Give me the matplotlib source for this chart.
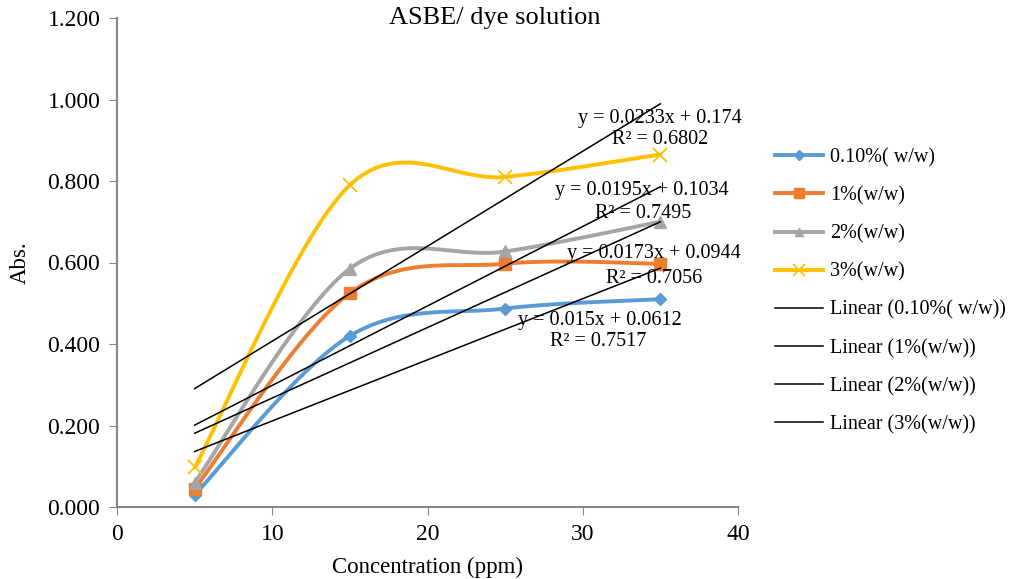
import numpy as np
import matplotlib
matplotlib.use("Agg")
import matplotlib.pyplot as plt
from matplotlib.lines import Line2D

plt.rcParams['font.family'] = ['Liberation Serif', 'DejaVu Serif']

conc = [5, 15, 25, 35]
s010 = [0.030, 0.420, 0.487, 0.510]
s1 = [0.045, 0.525, 0.597, 0.597]
s2 = [0.060, 0.585, 0.627, 0.700]
s3 = [0.097, 0.790, 0.810, 0.865]
series_names = ['0.10%( w/w)', '1%(w/w)', '2%(w/w)', '3%(w/w)']
slopes = [0.015, 0.0173, 0.0195, 0.0233]
intercepts = [0.0612, 0.0944, 0.1034, 0.174]
r2 = ['0.7517', '0.7056', '0.7495', '0.6802']
eq_labels = ['y = 0.015x + 0.0612', 'y = 0.0173x + 0.0944', 'y = 0.0195x + 0.1034', 'y = 0.0233x + 0.174']
x_ticks = [0, 10, 20, 30, 40]
y_ticks = [0.0, 0.2, 0.4, 0.6, 0.8, 1.0, 1.2]

colors = ['#5B9BD5', '#ED7D31', '#A5A5A5', '#FFC000']
markers = ['D', 's', '^', 'x']
msizes = [6, 9, 8, 10]

W, H = 1010, 579
fig = plt.figure(figsize=(W / 100, H / 100), dpi=100)
ax = fig.add_axes([117 / W, 1 - 507 / H, (738 - 117) / W, (507 - 18) / H])
ax.set_xlim(0, 40)
ax.set_ylim(0, 1.2)

sx = 621 / 40.0
sy = 489 / 1.2


def smooth(xs, ys, n=40):
    P = np.column_stack([np.array(xs) * sx, np.array(ys) * sy])
    out = []
    m = len(P)
    for i in range(m - 1):
        p0 = P[i - 1] if i > 0 else P[i]
        p1 = P[i]
        p2 = P[i + 1]
        p3 = P[i + 2] if i + 2 < m else P[i + 1]
        c1 = p1 + (p2 - p0) / 6.0
        c2 = p2 - (p3 - p1) / 6.0
        t = np.linspace(0, 1, n)[:, None]
        b = ((1 - t) ** 3) * p1 + 3 * ((1 - t) ** 2) * t * c1 + 3 * (1 - t) * t ** 2 * c2 + t ** 3 * p2
        out.append(b if i == 0 else b[1:])
    B = np.vstack(out)
    return B[:, 0] / sx, B[:, 1] / sy


data = [s010, s1, s2, s3]
handles = []
for ys, c, mk, ms, name in zip(data, colors, markers, msizes, series_names):
    xs_s, ys_s = smooth(conc, ys)
    ax.plot(xs_s, ys_s, color=c, lw=2.8, zorder=3, solid_capstyle='round')
    if mk == 'x':
        ax.plot(conc, ys, ls='none', marker=mk, color=c, ms=ms, mew=1.3, zorder=4)
    else:
        ax.plot(conc, ys, ls='none', marker=mk, color=c, ms=ms, mec=c, zorder=4)
    handles.append(Line2D([], [], color=c, lw=2.8, marker=mk, ms=ms * 0.8, mew=1.3 if mk == 'x' else 1))

xr = np.array([conc[0], conc[-1]], dtype=float)
for a, b in zip(slopes, intercepts):
    ax.plot(xr, a * xr + b, color='black', lw=1.1, zorder=5)

for name in series_names:
    handles.append(Line2D([], [], color='black', lw=1.1))
labels = series_names + ['Linear (%s)' % n for n in series_names]

ax.set_xticks(x_ticks)
ax.set_yticks(y_ticks)
ax.set_yticklabels(['%.3f' % v for v in y_ticks])
ax.tick_params(direction='out', length=6, color='#868686', labelsize=17, pad=6)
for sp in ['top', 'right']:
    ax.spines[sp].set_visible(False)
for sp in ['left', 'bottom']:
    ax.spines[sp].set_color('#868686')
    ax.spines[sp].set_linewidth(1.5)

fig.text(495 / W, 1 - 18 / H, 'ASBE/ dye solution', ha='center', va='center', fontsize=19)
fig.text(428 / W, 1 - 567 / H, 'Concentration (ppm)', ha='center', va='center', fontsize=16.5)
fig.text(20 / W, 1 - 263 / H, 'Abs.', ha='center', va='center', fontsize=16.5, rotation=90)

eq_pos = [(600, 320, 598, 342), (654, 254, 654, 278), (642, 190, 643, 213), (660, 118, 660, 140)]
for (ex, ey, rx, ry), eq, r in zip(eq_pos, eq_labels, r2):
    fig.text(ex / W, 1 - ey / H, eq, ha='center', va='center', fontsize=14.5, zorder=6)
    fig.text(rx / W, 1 - ry / H, 'R² = ' + r, ha='center', va='center', fontsize=14.5, zorder=6)

fig.legend(handles, labels, loc='upper left', bbox_to_anchor=(775 / W, 1 - 148 / H),
           frameon=False, fontsize=14.5, handlelength=2.38, handletextpad=0.34, labelspacing=0.94,
           borderaxespad=0, borderpad=0)

fig.savefig('out.png', dpi=100)
